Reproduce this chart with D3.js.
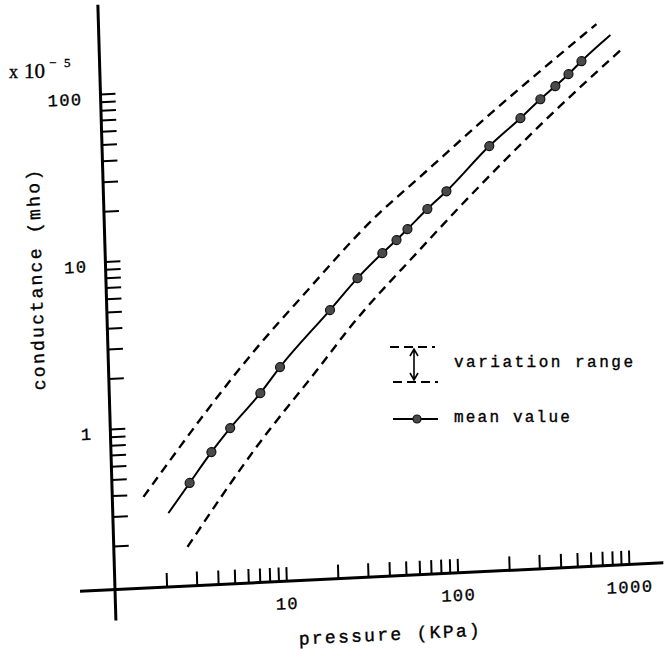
<!DOCTYPE html>
<html>
<head>
<meta charset="utf-8">
<script src="https://cdn.jsdelivr.net/npm/d3@7"></script>
<style>
body { margin: 0; background: #fff; }
text { stroke: #000; stroke-width: 0.35px; }
</style>
</head>
<body>
<div id="vis"></div>
<script>
const WIDTH = 664;
const HEIGHT = 651;

// measured points: pressure (KPa) and mean conductance (x10^-5 mho)
const pressure = [2.84, 3.85, 5.0, 7.6, 10, 20, 29.3, 41.3, 50.2, 58.4, 76.9, 100, 181, 278, 366, 450, 539, 645];
const meanCond = [0.452, 0.681, 0.935, 1.48, 2.09, 4.42, 6.73, 9.33, 11.06, 12.76, 16.6, 20.9, 37.8, 54.3, 69.5, 82.4, 96.2, 114];

// where the mean curve starts and stops
const meanEndP = [2.11, 961];
const meanEndC = [0.303, 160];

// variation range, upper and lower dashed curves
const upperP = [1.52, 7.44, 13.7, 40.3, 67.2, 176, 800];
const upperC = [0.385, 2.79, 5.38, 16.2, 24.9, 56.2, 188];
const lowerP = [2.69, 7.06, 17.0, 25.8, 68.0, 113.6, 399, 1093];
const lowerC = [0.188, 0.708, 2.04, 3.41, 9.49, 16.0, 53.3, 129];

// ticks
const xTicks = [2, 3, 4, 5, 6, 7, 8, 9, 10, 20, 30, 40, 50, 60, 70, 80, 90, 100, 200, 300, 400, 500, 600, 700, 800, 900, 1000];
const xLabels = [10, 100, 1000];
const yTicks = [0.2, 0.3, 0.4, 0.5, 0.6, 0.7, 0.8, 0.9, 1, 2, 3, 4, 5, 6, 7, 8, 9, 10, 20, 30, 40, 50, 60, 70, 80, 90, 100];
const yLabels = [1, 10, 100];

const MONO = "Liberation Mono, Courier New, monospace";
const SERIF = "Liberation Serif, Times New Roman, serif";

const svg = d3.select("#vis").append("svg").attr("width", WIDTH).attr("height", HEIGHT);

// the scanned figure is a bit skewed, draw the plot in a tilted frame
const frame = svg.append("g")
    .attr("transform", "matrix(0.9988,-0.0485,0.0293,0.9996,115,589.5)");

const x = d3.scaleLog().domain([1, 1000]).range([0, 514.5]);
const y = d3.scaleLog().domain([0.11, 100]).range([0, -495.6]);

// axis lines (they run past the origin)
frame.append("line")
    .attr("x1", -35).attr("x2", 549).attr("y1", 0).attr("y2", 0)
    .attr("stroke", "#000").attr("stroke-width", 3);
frame.append("line")
    .attr("x1", 0).attr("x2", 0).attr("y1", 31).attr("y2", -585)
    .attr("stroke", "#000").attr("stroke-width", 3);

// tick marks
frame.append("g")
    .call(d3.axisTop(x).tickValues(xTicks).tickSize(14).tickFormat(""))
    .call(g => g.select(".domain").remove())
    .selectAll("line").attr("stroke-width", 2);

frame.append("g")
    .call(d3.axisRight(y).tickValues(yTicks).tickSize(15).tickFormat(""))
    .call(g => g.select(".domain").remove())
    .selectAll("line").attr("stroke-width", 2);

// tick labels
frame.append("g")
    .call(d3.axisBottom(x).tickValues(xLabels).tickSize(0).tickPadding(16).tickFormat(d3.format("d")))
    .call(g => g.select(".domain").remove())
    .attr("font-family", MONO).attr("font-size", 17)
    .selectAll("text").attr("fill", "#000").attr("letter-spacing", 1.5);

frame.append("g")
    .call(d3.axisLeft(y).tickValues(yLabels).tickSize(0).tickPadding(18).tickFormat(d3.format("d")))
    .call(g => g.select(".domain").remove())
    .attr("font-family", MONO).attr("font-size", 17)
    .selectAll("text").attr("fill", "#000").attr("dy", "0.55em").attr("letter-spacing", 1.5);

// axis titles
frame.append("text")
    .attr("x", 274).attr("y", 64)
    .attr("text-anchor", "middle")
    .attr("font-family", MONO).attr("font-size", 18).attr("letter-spacing", 2.3)
    .text("pressure (KPa)");

frame.append("text")
    .attr("transform", "translate(-64,-314) rotate(-90)")
    .attr("text-anchor", "middle")
    .attr("font-family", MONO).attr("font-size", 18).attr("letter-spacing", 2.3)
    .text("conductance (mho)");

// unit multiplier
const unit = svg.append("text").attr("y", 78).attr("font-family", SERIF).attr("fill", "#000");
unit.append("tspan").attr("x", 9).attr("font-size", 18).text("x");
unit.append("tspan").attr("x", 24).attr("font-size", 21).text("10");
unit.append("tspan").attr("x", 49).attr("dy", -11).attr("font-size", 13).text("\u2212");
unit.append("tspan").attr("x", 64).attr("font-size", 13).text("5");

// curves
const line = d3.line()
    .x(d => x(d[0]))
    .y(d => y(d[1]))
    .curve(d3.curveMonotoneX);

const meanPts = [[meanEndP[0], meanEndC[0]]]
    .concat(pressure.map((p, i) => [p, meanCond[i]]))
    .concat([[meanEndP[1], meanEndC[1]]]);
const upperPts = upperP.map((p, i) => [p, upperC[i]]);
const lowerPts = lowerP.map((p, i) => [p, lowerC[i]]);

frame.selectAll("path.range")
    .data([upperPts, lowerPts])
    .join("path")
    .attr("class", "range")
    .attr("d", line)
    .attr("fill", "none")
    .attr("stroke", "#000")
    .attr("stroke-width", 2.4)
    .attr("stroke-dasharray", "9,6");

frame.append("path")
    .datum(meanPts)
    .attr("d", line)
    .attr("fill", "none")
    .attr("stroke", "#000")
    .attr("stroke-width", 2);

frame.selectAll("circle")
    .data(pressure)
    .join("circle")
    .attr("cx", d => x(d))
    .attr("cy", (d, i) => y(meanCond[i]))
    .attr("r", 4.5)
    .attr("fill", "#4a4a4a")
    .attr("stroke", "#111")
    .attr("stroke-width", 1.2);

// legend
const legend = svg.append("g").attr("transform", "translate(390,347)");
legend.append("line").attr("x1", 0).attr("x2", 45).attr("y1", 0).attr("y2", 0)
    .attr("stroke", "#000").attr("stroke-width", 2).attr("stroke-dasharray", "9,5");
legend.append("line").attr("x1", 3).attr("x2", 48).attr("y1", 35).attr("y2", 35)
    .attr("stroke", "#000").attr("stroke-width", 2).attr("stroke-dasharray", "9,5");
legend.append("path")
    .attr("d", "M24,2V33M20,9L24,2L28,9M20,26L24,33L28,26")
    .attr("fill", "none").attr("stroke", "#000").attr("stroke-width", 1.6);
legend.append("text").attr("x", 64).attr("y", 20)
    .attr("font-family", MONO).attr("font-size", 16).attr("letter-spacing", 2.5)
    .text("variation range");

legend.append("line").attr("x1", 3).attr("x2", 48).attr("y1", 72).attr("y2", 72)
    .attr("stroke", "#000").attr("stroke-width", 2);
legend.append("circle").attr("cx", 27).attr("cy", 72).attr("r", 4)
    .attr("fill", "#4a4a4a").attr("stroke", "#111").attr("stroke-width", 1.2);
legend.append("text").attr("x", 64).attr("y", 75)
    .attr("font-family", MONO).attr("font-size", 16).attr("letter-spacing", 2.2)
    .text("mean value");
</script>
</body>
</html>
